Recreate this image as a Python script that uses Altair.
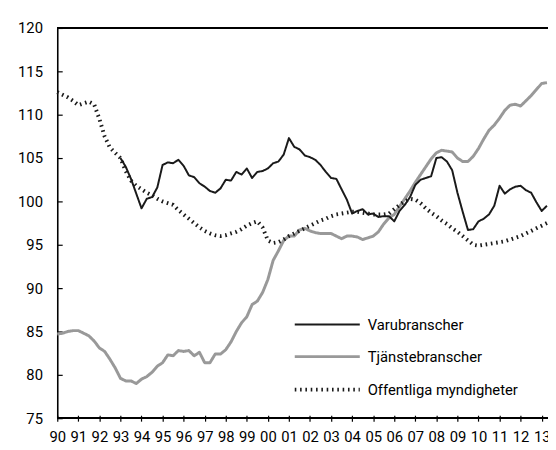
import altair as alt
import pandas as pd

# quarterly index from 1990 Q1
varu_start_q = 12
varu = [105.0, 104.0, 102.6, 100.9, 99.2, 100.3, 100.5, 101.6, 104.2, 104.5, 104.4, 104.8,
        104.1, 103.0, 102.8, 102.1, 101.7, 101.2, 101.0, 101.5, 102.5, 102.4, 103.4, 103.1,
        103.8, 102.7, 103.4, 103.5, 103.8, 104.4, 104.6, 105.4, 107.3, 106.3, 106.0, 105.3,
        105.1, 104.8, 104.2, 103.4, 102.7, 102.6, 101.4, 100.2, 98.6, 98.9, 99.1, 98.5,
        98.6, 98.2, 98.3, 98.3, 97.7, 98.9, 99.6, 100.5, 101.9, 102.5, 102.7, 102.9,
        105.0, 105.1, 104.6, 103.6, 101.0, 98.8, 96.7, 96.8, 97.7, 98.0, 98.5, 99.5,
        101.8, 100.9, 101.4, 101.7, 101.8, 101.3, 101.0, 99.9, 98.9, 99.5]

tjanst = [84.7, 84.8, 85.0, 85.1, 85.1, 84.8, 84.5, 83.9, 83.1, 82.7, 81.8, 80.8,
          79.6, 79.3, 79.3, 79.0, 79.5, 79.8, 80.3, 81.0, 81.4, 82.3, 82.2, 82.8,
          82.7, 82.8, 82.2, 82.6, 81.4, 81.4, 82.4, 82.4, 82.9, 83.8, 85.0, 86.0,
          86.7, 88.1, 88.5, 89.5, 91.0, 93.2, 94.3, 95.5, 96.0, 96.0, 96.7, 96.9,
          96.6, 96.4, 96.3, 96.3, 96.3, 96.0, 95.7, 96.0, 96.0, 95.9, 95.6, 95.8,
          96.0, 96.5, 97.4, 98.1, 98.5, 99.4, 100.3, 101.2, 102.2, 103.1, 104.0, 104.9,
          105.6, 105.9, 105.8, 105.7, 105.0, 104.6, 104.6, 105.2, 106.1, 107.2, 108.2, 108.8,
          109.6, 110.5, 111.1, 111.2, 111.0, 111.6, 112.2, 112.9, 113.6, 113.7]

offentl = [112.6, 112.3, 112.0, 111.6, 111.1, 111.3, 111.5, 111.2, 109.5, 107.5, 106.2, 105.6,
           105.0, 103.5, 102.4, 101.8, 101.4, 101.0, 100.7, 100.3, 100.0, 99.8, 99.6, 99.0,
           98.5, 98.0, 97.5, 97.0, 96.6, 96.3, 96.1, 96.0, 96.1, 96.3, 96.5, 96.8,
           97.2, 97.5, 97.7, 97.0, 95.5, 95.2, 95.3, 95.6, 96.0, 96.3, 96.6, 96.9,
           97.2, 97.5, 97.8, 98.0, 98.3, 98.5, 98.6, 98.7, 98.8, 98.8, 98.7, 98.6,
           98.5, 98.5, 98.5, 98.6, 99.1, 99.6, 100.0, 100.3, 100.2, 99.8, 99.2, 98.7,
           98.3, 97.8, 97.4, 96.9, 96.5, 96.0, 95.5, 95.0, 94.9, 95.0, 95.1, 95.2,
           95.3, 95.4, 95.6, 95.8, 96.0, 96.3, 96.6, 96.9, 97.2, 97.5]

series_names = ["Varubranscher", "Tjänstebranscher", "Offentliga myndigheter"]
year_ticks = list(range(1990, 2014))
y_ticks = list(range(75, 121, 5))

rows = []
for q, v in enumerate(tjanst):
    rows.append({"t": 1990 + q / 4, "v": v, "serie": series_names[1]})
for q, v in enumerate(varu):
    rows.append({"t": 1990 + (q + varu_start_q) / 4, "v": v, "serie": series_names[0]})
for q, v in enumerate(offentl):
    rows.append({"t": 1990 + q / 4, "v": v, "serie": series_names[2]})
df = pd.DataFrame(rows)

FONT = "Roboto"
W, H = 498, 396

xscale = alt.Scale(domain=[1990, 2013.3], nice=False, zero=False)
yscale = alt.Scale(domain=[75, 120], nice=False, zero=False)

lines = alt.Chart(df).mark_line(strokeJoin="round").encode(
    x=alt.X("t:Q", scale=xscale, title=None,
            axis=alt.Axis(orient="bottom", values=year_ticks, domain=False,
                          tickSize=6, tickColor="black", tickWidth=1.2, offset=-3,
                          labelExpr="substring(toString(datum.value), 2, 4)",
                          labelFont=FONT, labelFontSize=15, labelColor="black",
                          labelPadding=9, grid=False, labelFlush=False,
                          labelOverlap=False)),
    y=alt.Y("v:Q", scale=yscale, title=None,
            axis=alt.Axis(orient="left", values=y_ticks, domain=True, domainColor="black",
                          domainWidth=1.6, ticks=False, labelFont=FONT, labelFontSize=15,
                          labelColor="black", labelPadding=15, grid=False)),
    color=alt.Color("serie:N", title=None,
                    scale=alt.Scale(domain=series_names, range=["#1a1a1a", "#999999", "#1a1a1a"])),
    strokeDash=alt.StrokeDash("serie:N", title=None,
                              scale=alt.Scale(domain=series_names, range=[[1, 0], [1, 0], [1.6, 3.8]])),
    strokeWidth=alt.StrokeWidth("serie:N", title=None,
                                scale=alt.Scale(domain=series_names, range=[2, 4, 1.7])),
)

frame_top = alt.Chart(df).mark_rule(color="black", strokeWidth=1.6).encode(
    y=alt.YDatum(120, type="quantitative", scale=yscale,
                 axis=alt.Axis(orient="right", offset=-W, values=y_ticks, domain=False,
                               labels=False, tickSize=5, tickColor="black", tickWidth=1.2,
                               grid=False, title=None))
)
frame_bottom = alt.Chart(df).mark_rule(color="black", strokeWidth=1.6).encode(
    y=alt.YDatum(75, type="quantitative", scale=yscale, axis=None)
)

chart = alt.layer(lines, frame_top, frame_bottom).resolve_axis(y="independent").properties(
    width=W, height=H,
    autosize=alt.AutoSizeParams(type="none"),
    padding={"left": 50, "top": 17, "right": 0, "bottom": 29},
).configure_view(stroke=None).configure_legend(
    orient="none", legendX=283, legendY=289,
    symbolType="M-5,0H1", symbolSize=484,
    labelFont=FONT, labelFontSize=15, labelColor="black", labelOffset=6,
    rowPadding=12,
)

chart.save("out.html", embed_options={"renderer": "svg", "actions": False})
